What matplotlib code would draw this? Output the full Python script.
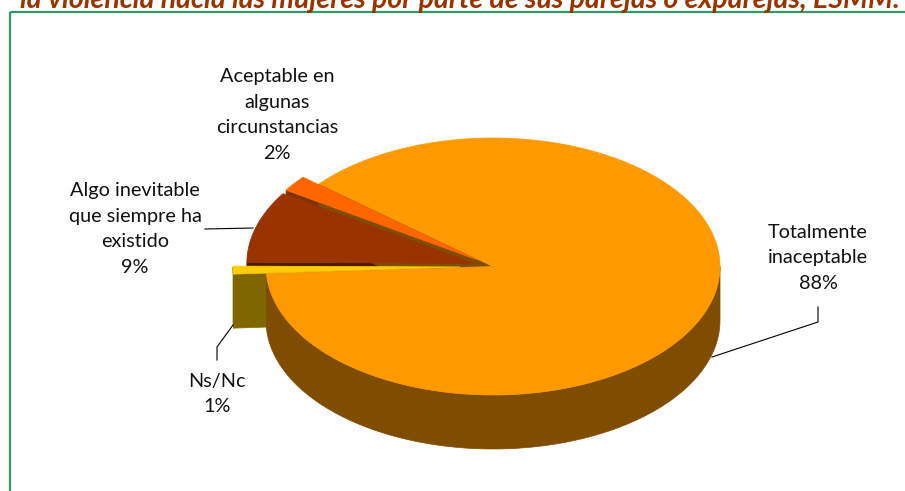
import numpy as np
import matplotlib.pyplot as plt
from matplotlib.patches import Polygon, Rectangle

# data (clockwise order, starting at the upper-left edge of the big slice)
labels = ['Totalmente\ninaceptable', 'Ns/Nc',
          'Algo inevitable\nque siempre ha\nexistido',
          'Aceptable en\nalgunas\ncircunstancias']
values = [88, 1, 9, 2]
title = 'la violencia hacia las mujeres por parte de sus parejas o exparejas, ESMM.'

top_colors = ['#FF9900', '#FFCC00', '#993300', '#FF6600']
side_colors = ['#7F4D00', '#806600', '#4D1A00', '#803300']
explode = [0, 33, 20, 20]

# pie geometry in pixels
cx, cy = 493, 266.5
rx, ry = 227, 128.5
depth = 54
start = 140

plt.rcParams['font.family'] = ['Lato', 'DejaVu Sans']

fig = plt.figure(figsize=(9.05, 4.91), dpi=100)
ax = fig.add_axes([0, 0, 1, 1])
ax.set_xlim(0, 905)
ax.set_ylim(491, 0)
ax.axis('off')


def arc(t1, t2, dx, dy, z=0, n=120):
    t = np.radians(np.linspace(t1, t2, n))
    return np.column_stack([cx + dx + rx * np.cos(t), cy + dy - ry * np.sin(t) + z])


# slice angles (clockwise -> decreasing)
total = sum(values)
slices = []
a = start
for i, v in enumerate(values):
    a2 = a - v / total * 360
    mid = np.radians((a + a2) / 2)
    dx = explode[i] * np.cos(mid)
    dy = -explode[i] * (ry / rx) * np.sin(mid)
    slices.append((a2, a, dx, dy))
    a = a2


def walls(i):
    lo, hi, dx, dy = slices[i]
    apex = np.array([cx + dx, cy + dy])
    # radial walls facing the viewer
    for t, sign in ((hi, 1), (lo, -1)):
        r = np.radians(t)
        ny = np.sin(r + sign * np.pi / 2)
        if ny < 0:
            e = np.array([cx + dx + rx * np.cos(r), cy + dy - ry * np.sin(r)])
            quad = [apex, e, e + [0, depth], apex + [0, depth]]
            ax.add_patch(Polygon(quad, closed=True, facecolor=side_colors[i],
                                 edgecolor=side_colors[i], lw=0.5))
    # outer curved wall, front half only
    for f0, f1 in ((-540, -360), (-180, 0), (180, 360)):
        s0, s1 = max(lo, f0), min(hi, f1)
        if s1 > s0:
            top = arc(s0, s1, dx, dy)
            bot = arc(s1, s0, dx, dy, depth)
            ax.add_patch(Polygon(np.vstack([top, bot]), closed=True,
                                 facecolor=side_colors[i], edgecolor=side_colors[i], lw=0.5))


def top(i):
    lo, hi, dx, dy = slices[i]
    pts = np.vstack([[cx + dx, cy + dy], arc(hi, lo, dx, dy)])
    ax.add_patch(Polygon(pts, closed=True, facecolor=top_colors[i],
                         edgecolor=top_colors[i], lw=0.5))


for i in (3, 2, 1):
    walls(i)
walls(0)
top(0)
for i in (2, 3, 1):
    top(i)

# labels and leader lines
label_pos = [(818, 258), (217, 394), (135, 229), (277, 115)]
leaders = [[(818, 307), (818, 322), (712, 357)],
           [(217, 360), (217, 347), (233, 325)],
           [(205, 229), (253, 228)],
           None]
for i in range(len(values)):
    ax.text(label_pos[i][0], label_pos[i][1], labels[i] + '\n' + f'{values[i]}%',
            ha='center', va='center', fontsize=14.3, linespacing=1.62, color='#111111')
    if leaders[i]:
        xs, ys = zip(*leaders[i])
        ax.plot(xs, ys, color='black', lw=0.8)

# frame and cut-off title
ax.add_patch(Rectangle((10, 12), 900, 490, fill=False, edgecolor='#339966', lw=1.6))
ax.text(20, 8, title, ha='left', va='baseline', fontsize=20.5, fontweight='bold',
        fontstyle='italic', color='#993300', clip_on=False)

plt.savefig('out.png', dpi=100)
